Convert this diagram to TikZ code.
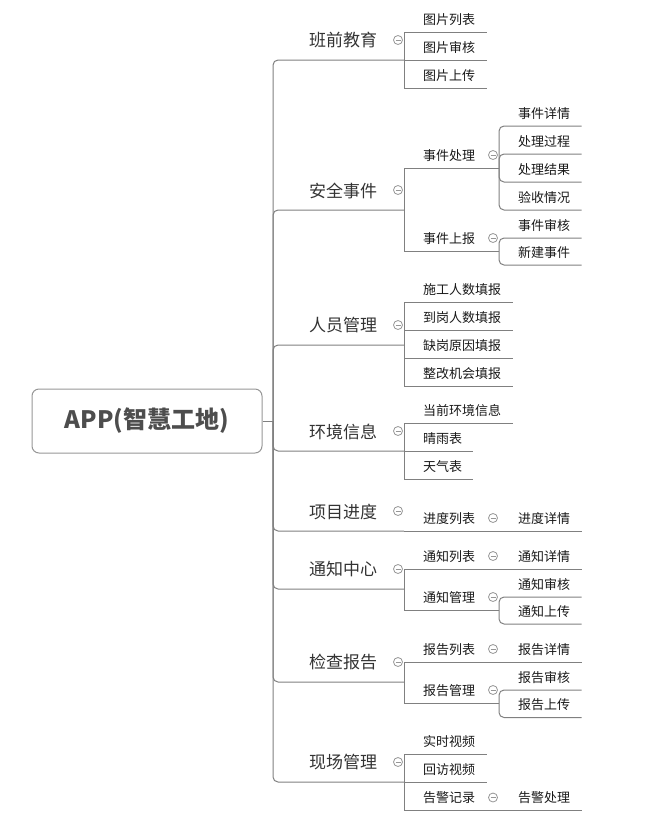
\documentclass[tikz,border=0pt]{standalone}
\usepackage{fontspec}
\setmainfont{Noto Sans CJK SC}
\definecolor{lc}{RGB}{128,128,128}
\definecolor{t1c}{RGB}{51,51,51}
\definecolor{t2c}{RGB}{25,25,25}
\definecolor{tc}{RGB}{77,77,77}
\definecolor{mc}{RGB}{150,150,150}
\begin{document}
\begin{tikzpicture}[x=1pt,y=-1pt,
 conn/.style={draw=lc, line width=1pt},
 rc/.style={rounded corners=5pt},
 lvone/.style={anchor=west, inner sep=0pt, text=t1c, font=\fontsize{17}{20}\selectfont},
 lvtwo/.style={anchor=west, inner sep=0pt, text=t2c, font=\fontsize{13}{16}\selectfont},
 rootbox/.style={draw=mc, line width=1pt, rounded corners=7pt, minimum width=230pt, minimum height=64pt, inner sep=0pt, text=tc, font=\fontsize{24}{28}\selectfont\bfseries},
 fold/.style={circle, draw=mc, line width=0.8pt, minimum size=9pt, inner sep=0pt,
   path picture={\draw[mc, line width=0.8pt] ([xshift=-2.5pt]path picture bounding box.center) -- ([xshift=2.5pt]path picture bounding box.center);}}
]
\useasboundingbox (0,0) rectangle (661,817);

% root
\node[rootbox] (root) at (147,421) {APP(智慧工地)};
\coordinate (sp) at (273,421);
\draw[conn] (root.east) -- (sp);

% ---------- level 1 ----------
\foreach \n/\u/\t in {A/60/班前教育, B/210/安全事件, C/345/人员管理, D/451/环境信息, E/531/项目进度, F/589/通知中心, G/682/检查报告, H/782/现场管理}{
  \node[lvone] (\n) at (309,\u-19.5) {\t};
  \node[fold] (\n-f) at (398,\u-20) {};
  \coordinate (\n-r) at (404,\u);
  \draw[conn,rc] (sp) |- (\n-r);
}

% ---------- level 2 ----------
\foreach \n/\p/\u/\xr/\t/\f in {
  A1/A/32/487/图片列表/0, A2/A/60/487/图片审核/0, A3/A/88/487/图片上传/0,
  B1/B/168/499/事件处理/1, B2/B/251/499/事件上报/1,
  C1/C/302.5/512.5/施工人数填报/0, C2/C/330.5/512.5/到岗人数填报/0, C3/C/358.5/512.5/缺岗原因填报/0, C4/C/386/512.5/整改机会填报/0,
  D1/D/423/512.5/当前环境信息/0, D2/D/451/473/晴雨表/0, D3/D/479/473/天气表/0,
  E1/E/531/499/进度列表/1,
  F1/F/569/499/通知列表/1, F2/F/610/499/通知管理/1,
  G1/G/662/499/报告列表/1, G2/G/703/499/报告管理/1,
  H1/H/754.5/487/实时视频/0, H2/H/782/487/回访视频/0, H3/H/810.5/499/告警记录/1}{
  \node[lvtwo] (\n) at (423,\u-12.5) {\t};
  \coordinate (\n-r) at (\xr,\u);
  \coordinate (\n-j) at (499,\u);
  \ifnum\f=1 \node[fold] (\n-f) at (493,\u-13) {}; \fi
  \draw[conn] (\p-r) |- (\n-r);
}

% ---------- level 3 ----------
% last field: 1 = child on a different line (rounded bend), 0 = same line
\foreach \n/\p/\u/\t/\b in {
  B11/B1/126/事件详情/1, B12/B1/154/处理过程/1, B13/B1/182/处理结果/1, B14/B1/210/验收情况/1,
  B21/B2/238/事件审核/1, B22/B2/265/新建事件/1,
  E11/E1/531/进度详情/0,
  F11/F1/569/通知详情/0, F21/F2/597/通知审核/1, F22/F2/624/通知上传/1,
  G11/G1/662/报告详情/0, G21/G2/690/报告审核/1, G22/G2/717.5/报告上传/1,
  H31/H3/810.5/告警处理/0}{
  \node[lvtwo] (\n) at (518,\u-12.5) {\t};
  \coordinate (\n-r) at (581.5,\u);
  \ifnum\b=1 \draw[conn,rc] (\p-j) |- (\n-r); \else \draw[conn] (\p-j) -- (\n-r); \fi
}
\end{tikzpicture}
\end{document}
